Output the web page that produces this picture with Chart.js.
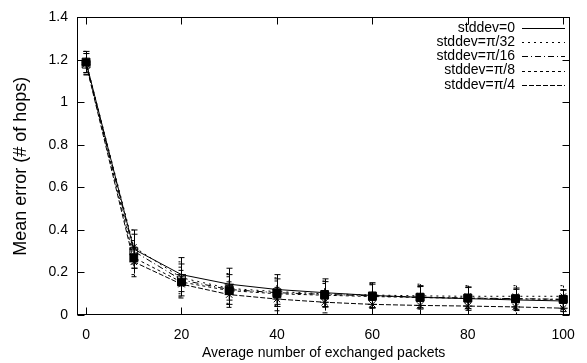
<!DOCTYPE html>
<html>
<head>
<meta charset="utf-8">
<script src="https://cdn.jsdelivr.net/npm/chart.js@4/dist/chart.umd.min.js"></script>
<style>
  body { margin: 0; background: #fff; }
  #wrap { width: 587px; height: 363px; }
</style>
</head>
<body>
<div id="wrap"><canvas id="errorChart"></canvas></div>
<script>
// Data
const packets = [0, 10, 20, 30, 40, 50, 60, 70, 80, 90, 100];
const seriesNames = ["stddev=0", "stddev=\u03c0/32", "stddev=\u03c0/16", "stddev=\u03c0/8", "stddev=\u03c0/4"];

const meanStd0    = [1.19, 0.31, 0.19, 0.145, 0.12, 0.105, 0.092, 0.083, 0.077, 0.071, 0.066];
const meanStdPi32 = [1.19, 0.32, 0.175, 0.125, 0.11, 0.10, 0.094, 0.09, 0.088, 0.088, 0.088];
const meanStdPi16 = [1.18, 0.30, 0.165, 0.12, 0.105, 0.097, 0.09, 0.084, 0.08, 0.077, 0.074];
const meanStdPi8  = [1.19, 0.27, 0.155, 0.115, 0.10, 0.093, 0.087, 0.082, 0.079, 0.076, 0.073];
const meanStdPi4  = [1.18, 0.25, 0.145, 0.096, 0.075, 0.06, 0.05, 0.045, 0.042, 0.038, 0.032];

const errStd0    = [0.05, 0.09, 0.08, 0.075, 0.07, 0.065, 0.06, 0.055, 0.055, 0.05, 0.05];
const errStdPi32 = [0.05, 0.08, 0.075, 0.07, 0.065, 0.06, 0.055, 0.055, 0.05, 0.05, 0.05];
const errStdPi16 = [0.05, 0.08, 0.075, 0.07, 0.065, 0.06, 0.055, 0.05, 0.05, 0.05, 0.045];
const errStdPi8  = [0.05, 0.08, 0.07, 0.065, 0.06, 0.055, 0.055, 0.05, 0.05, 0.045, 0.045];
const errStdPi4  = [0.05, 0.07, 0.065, 0.06, 0.055, 0.05, 0.05, 0.045, 0.045, 0.04, 0.04];

const xTicks = [0, 20, 40, 60, 80, 100];
const yTicks = [0, 0.2, 0.4, 0.6, 0.8, 1, 1.2, 1.4];

const means = [meanStd0, meanStdPi32, meanStdPi16, meanStdPi8, meanStdPi4];
const errs = [errStd0, errStdPi32, errStdPi16, errStdPi8, errStdPi4];
const dashes = [[], [2, 4], [6, 3, 1, 3], [3, 3], [5, 2]];
const markers = ["cross", "crossRot", "rect", "rect", "star"];
const markerFill = ["#000", "#000", "rgba(0,0,0,0)", "#000", "#000"];
const markerSize = [4.5, 4, 5.5, 5.5, 4.5];

const FONT = "Liberation Sans, Arial, Helvetica, sans-serif";

// error bars drawn through the chart scales
const errorBars = {
  id: "errorBars",
  afterDatasetsDraw(chart) {
    const ctx = chart.ctx;
    const xs = chart.scales.x, ys = chart.scales.y, a = chart.chartArea;
    ctx.save();
    ctx.beginPath();
    ctx.rect(a.left, a.top, a.right - a.left, a.bottom - a.top);
    ctx.clip();
    ctx.strokeStyle = "#000";
    ctx.lineWidth = 1;
    chart.data.datasets.forEach((ds) => {
      ctx.setLineDash(ds.borderDash || []);
      ds.data.forEach((p, j) => {
        const e = ds.errors[j];
        const px = Math.round(xs.getPixelForValue(p.x)) + 0.5;
        const top = ys.getPixelForValue(p.y + e);
        const bot = ys.getPixelForValue(p.y - e);
        ctx.beginPath();
        ctx.moveTo(px, top);
        ctx.lineTo(px, bot);
        ctx.moveTo(px - 3, top);
        ctx.lineTo(px + 3, top);
        ctx.moveTo(px - 3, bot);
        ctx.lineTo(px + 3, bot);
        ctx.stroke();
      });
    });
    ctx.restore();
  },
};

// gnuplot style frame with inward ticks on all sides, plus the key
const frameAndKey = {
  id: "frameAndKey",
  afterDraw(chart) {
    const ctx = chart.ctx;
    const xs = chart.scales.x, ys = chart.scales.y, a = chart.chartArea;
    const L = Math.round(a.left) + 0.5, R = Math.round(a.right) - 0.5;
    const T = Math.round(a.top) + 0.5, B = Math.round(a.bottom) - 0.5;
    ctx.save();
    ctx.strokeStyle = "#000";
    ctx.lineWidth = 1;
    ctx.setLineDash([]);
    ctx.strokeRect(L, T, R - L, B - T);
    ctx.beginPath();
    xTicks.forEach((v) => {
      const px = Math.round(xs.getPixelForValue(v)) + 0.5;
      ctx.moveTo(px, B); ctx.lineTo(px, B - 7);
      ctx.moveTo(px, T); ctx.lineTo(px, T + 7);
    });
    yTicks.forEach((v) => {
      const py = Math.round(ys.getPixelForValue(v)) + 0.5;
      ctx.moveTo(L, py); ctx.lineTo(L + 7, py);
      ctx.moveTo(R, py); ctx.lineTo(R - 7, py);
    });
    ctx.stroke();

    // key
    ctx.font = "14px " + FONT;
    ctx.fillStyle = "#000";
    ctx.textAlign = "right";
    ctx.textBaseline = "middle";
    seriesNames.forEach((name, i) => {
      const y = 28 + i * 14.2;
      ctx.fillText(name, 515, y);
      ctx.setLineDash(dashes[i]);
      ctx.beginPath();
      ctx.moveTo(522, Math.round(y) + 0.5);
      ctx.lineTo(565, Math.round(y) + 0.5);
      ctx.stroke();
    });
    ctx.restore();
  },
};

const datasets = seriesNames.map((name, i) => ({
  label: name,
  data: packets.map((x, j) => ({ x: x, y: means[i][j] })),
  errors: errs[i],
  borderColor: "#000",
  borderWidth: 1,
  borderDash: dashes[i],
  pointStyle: markers[i],
  pointRadius: markerSize[i],
  pointBorderColor: "#000",
  pointBackgroundColor: markerFill[i],
  pointBorderWidth: 1,
  tension: 0,
  fill: false,
}));

const ctx = document.getElementById("errorChart").getContext("2d");
const errorChart = new Chart(ctx, {
  type: "line",
  data: { datasets: datasets },
  plugins: [errorBars, frameAndKey],
  options: {
    responsive: true,
    maintainAspectRatio: false,
    devicePixelRatio: 1,
    animation: false,
    layout: { padding: { top: 13, right: 6, left: 0, bottom: 0 } },
    plugins: {
      legend: { display: false },
      tooltip: { enabled: false },
    },
    scales: {
      x: {
        type: "linear",
        min: -1.9,
        max: 101.5,
        afterBuildTicks: (scale) => { scale.ticks = xTicks.map((v) => ({ value: v })); },
        afterFit: (scale) => { scale.height = 48; },
        grid: { display: false, drawTicks: false },
        border: { display: false },
        ticks: { color: "#000", font: { family: FONT, size: 14 }, padding: 12, maxRotation: 0 },
        title: {
          display: true,
          text: "Average number of exchanged packets",
          color: "#000",
          font: { family: FONT, size: 14 },
          padding: { top: 0, bottom: 1 },
        },
      },
      y: {
        type: "linear",
        min: 0,
        max: 1.4,
        afterBuildTicks: (scale) => { scale.ticks = yTicks.map((v) => ({ value: v })); },
        afterFit: (scale) => { scale.width = 77; },
        grid: { display: false, drawTicks: false },
        border: { display: false },
        ticks: {
          color: "#000",
          font: { family: FONT, size: 14 },
          padding: 9,
          callback: (v) => String(Math.round(v * 10) / 10),
        },
        title: {
          display: true,
          text: "Mean error (# of hops)",
          color: "#000",
          font: { family: FONT, size: 18 },
          padding: { top: 10, bottom: 0 },
        },
      },
    },
  },
});
</script>
</body>
</html>
